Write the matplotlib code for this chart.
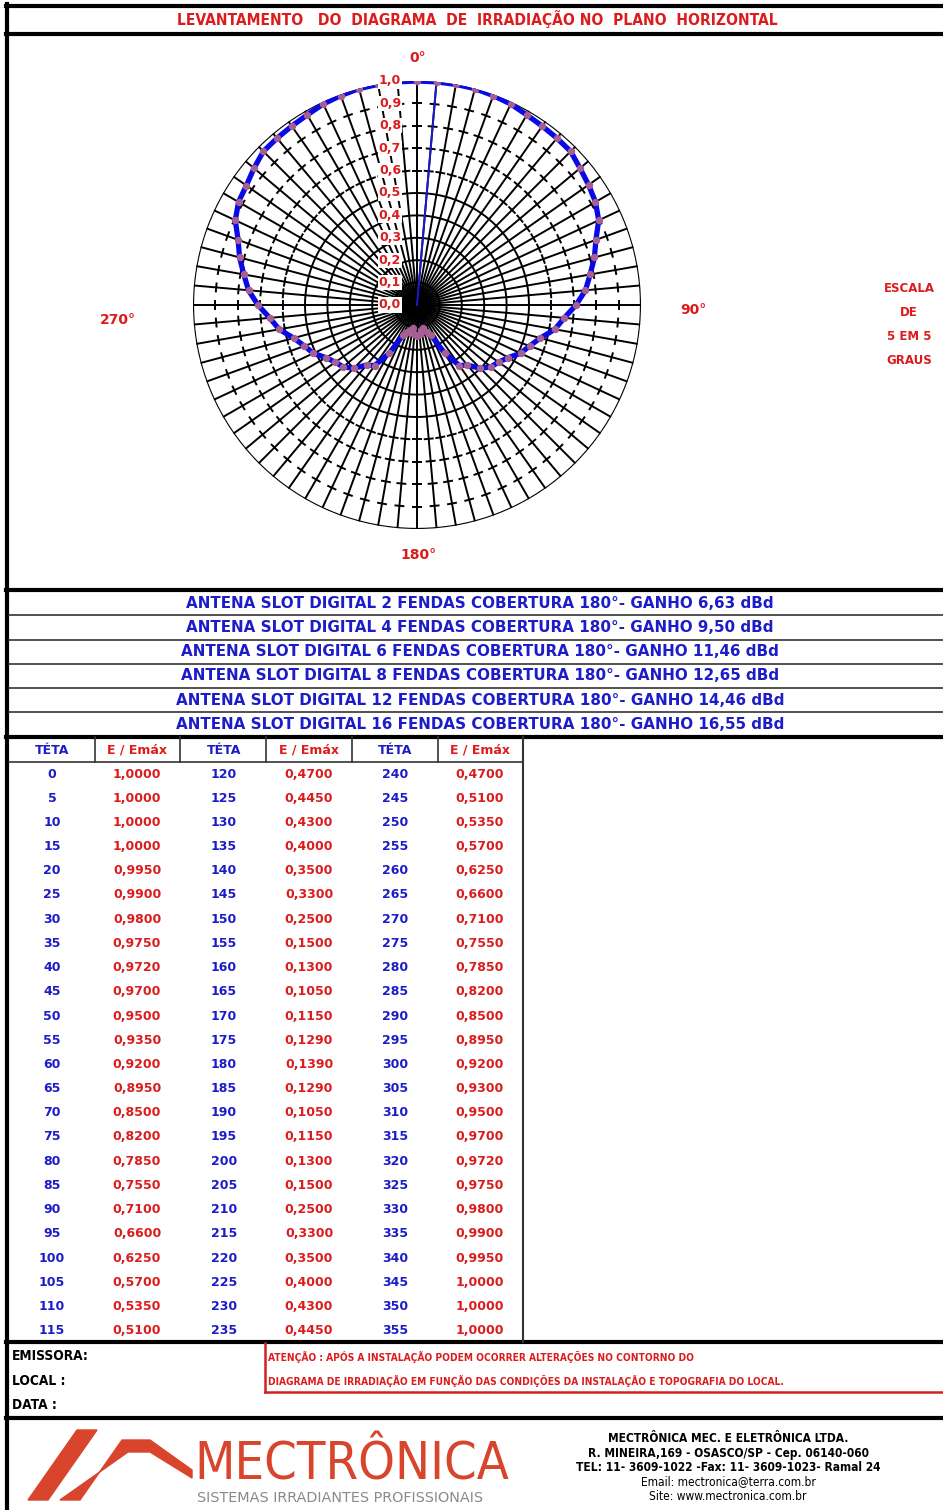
import numpy as np
import matplotlib
matplotlib.use('Agg')
import matplotlib.pyplot as plt
from matplotlib.patches import Polygon
from matplotlib.transforms import offset_copy

# dados do diagrama (TÉTA em graus, E/Emáx)
teta = list(range(0, 360, 5))
e_emax = [1.0, 1.0, 1.0, 1.0, 0.995, 0.99, 0.98, 0.975, 0.972, 0.97, 0.95, 0.935,
          0.92, 0.895, 0.85, 0.82, 0.785, 0.755, 0.71, 0.66, 0.625, 0.57, 0.535, 0.51,
          0.47, 0.445, 0.43, 0.40, 0.35, 0.33, 0.25, 0.15, 0.13, 0.105, 0.115, 0.129,
          0.139, 0.129, 0.105, 0.115, 0.13, 0.15, 0.25, 0.33, 0.35, 0.40, 0.43, 0.445,
          0.47, 0.51, 0.535, 0.57, 0.625, 0.66, 0.71, 0.755, 0.785, 0.82, 0.85, 0.895,
          0.92, 0.93, 0.95, 0.97, 0.972, 0.975, 0.98, 0.99, 0.995, 1.0, 1.0, 1.0]

r_labels = ['0,0', '0,1', '0,2', '0,3', '0,4', '0,5', '0,6', '0,7', '0,8', '0,9', '1,0']
r_values = [0.0, 0.1, 0.2, 0.3, 0.4, 0.5, 0.6, 0.7, 0.8, 0.9, 1.0]

fendas = [2, 4, 6, 8, 12, 16]
ganho = ['6,63', '9,50', '11,46', '12,65', '14,46', '16,55']

empresa = ['MECTRÔNICA MEC. E ELETRÔNICA LTDA.',
           'R. MINEIRA,169 - OSASCO/SP - Cep. 06140-060',
           'TEL: 11- 3609-1022 -Fax: 11- 3609-1023- Ramal 24',
           'Email: mectronica@terra.com.br',
           'Site: www.mectronica.com.br']

RED = '#dc1c1c'
BLUE = '#1c1cc8'
COND = dict(family='DejaVu Sans', fontstretch='condensed')

W, H = 943, 1510
fig = plt.figure(figsize=(W / 100, H / 100), dpi=100)
ax = fig.add_axes([0, 0, 1, 1])
ax.set_xlim(0, W)
ax.set_ylim(H, 0)
ax.axis('off')

# molduras
thick = 3.0
ax.plot([7, 7], [4, H], color='black', lw=thick)
for y in [6, 34, 590, 737, 1342, 1418]:
    ax.plot([6, W], [y, y], color='black', lw=thick)
for y in [615, 640, 664, 688, 712]:
    ax.plot([9, W], [y, y], color='#333333', lw=1.2)

# titulo
ax.text(477, 19, 'LEVANTAMENTO   DO  DIAGRAMA  DE  IRRADIAÇÃO NO  PLANO  HORIZONTAL',
        color=RED, fontsize=11.2, fontweight='bold', ha='center', va='center', **COND)

# rotulos de angulo
for txt, x, y in [('0°', 418, 58), ('90°', 693, 310), ('180°', 418, 555), ('270°', 118, 320)]:
    ax.text(x, y, txt, color=RED, fontsize=10, fontweight='bold', ha='center', va='center')
for txt, y in zip(['ESCALA', 'DE', '5 EM 5', 'GRAUS'], [288, 312, 336, 361]):
    ax.text(909, y, txt, color=RED, fontsize=8.5, fontweight='bold', ha='center', va='center')

# antenas
for i, (n, g) in enumerate(zip(fendas, ganho)):
    ax.text(480, 603 + i * 24.3,
            f'ANTENA SLOT DIGITAL {n} FENDAS COBERTURA 180°- GANHO {g} dBd',
            color=BLUE, fontsize=10.9, fontweight='bold', ha='center', va='center')

# tabela
col_x = [52, 137, 224, 309, 395, 480]
for x in [95, 180, 266, 352, 438]:
    ax.plot([x, x], [737, 762], color='#333333', lw=1.2)
ax.plot([9, 523], [762, 762], color='#333333', lw=1.2)
ax.plot([523, 523], [737, 1342], color='#333333', lw=1.5)
for k in range(3):
    ax.text(col_x[2 * k], 750, 'TÉTA', color=BLUE, fontsize=9, fontweight='bold',
            ha='center', va='center')
    ax.text(col_x[2 * k + 1], 750, 'E / Emáx', color=RED, fontsize=9, fontweight='bold',
            ha='center', va='center')
    for i in range(24):
        j = k * 24 + i
        y = 774 + i * 24.2
        ax.text(col_x[2 * k], y, str(teta[j]), color=BLUE, fontsize=9,
                fontweight='bold', ha='center', va='center')
        ax.text(col_x[2 * k + 1], y, f'{e_emax[j]:.4f}'.replace('.', ','), color=RED,
                fontsize=9, fontweight='bold', ha='center', va='center')

# rodape
for txt, y in zip(['EMISSORA:', 'LOCAL :', 'DATA :'], [1356, 1381, 1405]):
    ax.text(12, y, txt, color='black', fontsize=9.8, fontweight='bold',
            ha='left', va='center', **COND)
ax.plot([265, 265], [1343, 1392], color='#d42020', lw=1.8)
ax.plot([265, W], [1392, 1392], color='#d42020', lw=1.8)
ax.text(268, 1357, 'ATENÇÃO : APÓS A INSTALAÇÃO PODEM OCORRER ALTERAÇÕES NO CONTORNO DO',
        color=RED, fontsize=7.3, fontweight='bold', ha='left', va='center', **COND)
ax.text(268, 1381, 'DIAGRAMA DE IRRADIAÇÃO EM FUNÇÃO DAS CONDIÇÕES DA INSTALAÇÃO E TOPOGRAFIA DO LOCAL.',
        color=RED, fontsize=7.3, fontweight='bold', ha='left', va='center', **COND)

for i, txt in enumerate(empresa):
    ax.text(728, 1439 + i * 14.3, txt, color='black', fontsize=8.6,
            fontweight='bold' if i < 3 else 'normal', ha='center', va='center', **COND)

# logo
logo_red = '#d8452c'
ax.add_patch(Polygon([(28, 1500), (48, 1500), (97, 1430), (77, 1430)], color=logo_red))
ax.add_patch(Polygon([(60, 1500), (80, 1500), (122, 1440), (150, 1440), (192, 1470),
                      (192, 1478), (150, 1452), (128, 1452)], color=logo_red))
ax.text(194, 1479, 'MECTRÔNICA', color=logo_red, fontsize=37.5, ha='left',
        va='baseline', **COND)
ax.text(197, 1491, 'SISTEMAS IRRADIANTES PROFISSIONAIS', color='#8a8a8a', fontsize=10.4,
        ha='left', va='top')

# diagrama polar
cx, cy, R = 417, 305, 224
pax = fig.add_axes([(cx - R) / W, 1 - (cy + R) / H, 2 * R / W, 2 * R / H],
                   projection='polar')
pax.set_theta_zero_location('N')
pax.set_theta_direction(-1)
pax.set_ylim(0, 1)
pax.axis('off')

ang = np.deg2rad(teta)
full = np.linspace(0, 2 * np.pi, 721)
glw = 1.4
for t in ang:
    pax.plot([t, t], [0, 1], color='black', lw=glw, zorder=2)
for rc in [0.1, 0.2, 0.3, 0.4, 0.5]:
    pax.plot(full, np.full_like(full, rc), color='black', lw=glw, zorder=2)
pax.plot(full, np.ones_like(full), color='black', lw=1.6, zorder=2)
for rc in [0.6, 0.7, 0.8, 0.9]:
    hw = 4.0 / (rc * R)
    for t in ang:
        pax.plot([t - hw, t + hw], [rc, rc], color='black', lw=glw, zorder=2)

pax.plot([np.deg2rad(5), np.deg2rad(5)], [0, 1], color='#1a1ad0', lw=1.4, zorder=3)
pax.plot(np.append(ang, ang[0]), np.append(e_emax, e_emax[0]), color='#0a0ae6',
         lw=3.8, zorder=4)
pax.plot(ang, e_emax, 'o', color='#a55f92', ms=4.3, zorder=5)

lab_tr = offset_copy(pax.transData, fig=fig, x=-16, y=0, units='dots')
for lab, rv in zip(r_labels, r_values):
    pax.text(0, rv, lab, transform=lab_tr, color=RED, fontsize=9, fontweight='bold',
             ha='right', va='center', zorder=6,
             bbox=dict(facecolor='white', edgecolor='none', pad=0.8))

fig.savefig('out.png', dpi=100)
